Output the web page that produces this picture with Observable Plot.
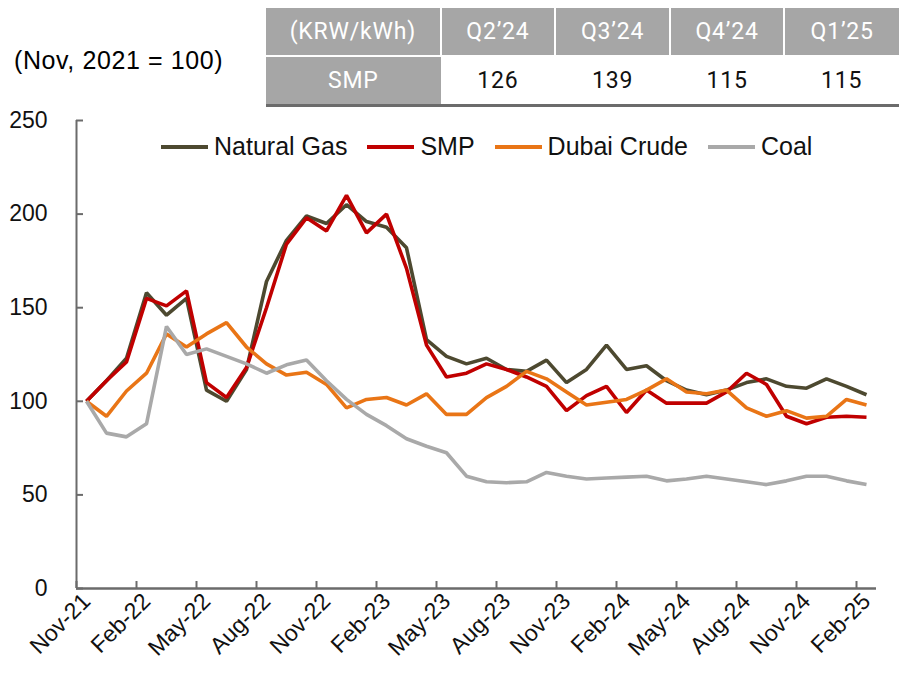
<!DOCTYPE html>
<html><head><meta charset="utf-8">
<script src="https://cdn.jsdelivr.net/npm/d3@7"></script>
<script src="https://cdn.jsdelivr.net/npm/@observablehq/plot@0.6"></script>
<style>
body{margin:0;background:#fff;}
#wrap{position:relative;width:899px;height:675px;overflow:hidden;font-family:Arial,"Liberation Sans",sans-serif;}
#chart{position:absolute;left:0;top:0;}
#base{position:absolute;left:14px;top:46px;font-size:25px;letter-spacing:0.6px;color:#000;white-space:nowrap;}
#tbl{position:absolute;left:266px;top:8px;border-collapse:collapse;font-family:Roboto,"Noto Sans",sans-serif;font-size:23px;letter-spacing:0.8px;table-layout:fixed;}
#tbl td{height:47px;padding:0;text-align:center;vertical-align:middle;}
#tbl tr.h td{background:#a6a6a6;color:#fff;border-left:2px solid #fff;}
#tbl tr.h td:first-child{border-left:none;}
#tbl tr.b td{color:#111;background:#fff;border-bottom:3px solid #6b6b6b;border-top:2px solid #fff;}
#tbl tr.b td.g{background:#a6a6a6;color:#fff;}
#legend{position:absolute;left:161px;top:132px;display:flex;align-items:center;font-size:25px;color:#111;white-space:nowrap;}
#legend .it{display:flex;align-items:center;margin-right:20px;}
#legend .ln{display:inline-block;width:47px;height:4px;margin-right:6px;}
</style></head>
<body><div id="wrap"><div id="chart"></div><div id="base"></div><table id="tbl"></table><div id="legend"></div></div>
<script>
// ---- data ----
const months = ["Nov-21","Dec-21","Jan-22","Feb-22","Mar-22","Apr-22","May-22","Jun-22","Jul-22","Aug-22",
"Sep-22","Oct-22","Nov-22","Dec-22","Jan-23","Feb-23","Mar-23","Apr-23","May-23","Jun-23",
"Jul-23","Aug-23","Sep-23","Oct-23","Nov-23","Dec-23","Jan-24","Feb-24","Mar-24","Apr-24",
"May-24","Jun-24","Jul-24","Aug-24","Sep-24","Oct-24","Nov-24","Dec-24","Jan-25","Feb-25"];
const tickLabels = ["Nov-21","Feb-22","May-22","Aug-22","Nov-22","Feb-23","May-23","Aug-23","Nov-23","Feb-24","May-24","Aug-24","Nov-24","Feb-25"];
const yTicks = [0,50,100,150,200,250];
const seriesNames = ["Natural Gas","SMP","Dubai Crude","Coal"];
const seriesColors = ["#4d4930","#c00000","#e97516","#a9a9a9"];
const naturalGas = [100,111,123,158,146,155,106,100,117,164,186,199,195,205,196,193,182,133,124,120,123,117,116,122,110,117,130,117,119,111,106,103.5,106,110,112,108,107,112,108,103.5];
const smp = [100,111,121,155,151,159,110,102,118,150,184,198,191,210,190,200,171,130,113,115,120,117,113,108,95,103,108,94,106,99,99,99,105,115,109,92,88,91.5,92,91.5];
const dubaiCrude = [100,92,105.5,115,136,129,136,142,129,120,114,115.5,109,96.5,101,102,98,104,93,93,102,108,116,112,105,98,99.5,101,106,112,105,104,106,96.5,92,95,91,92,101,98];
const coal = [100,83,81,88,140,125,128,124,120,115,119.5,122,111,101,93,87,80,76,72.5,60,57,56.5,57,62,60,58.5,59,59.5,60,57.5,58.5,60,58.5,57,55.5,57.5,60,60,57.5,55.5];
const baseLabel = "(Nov, 2021 = 100)";
const tableHeader = ["(KRW/kWh)","Q2\u201924","Q3\u201924","Q4\u201924","Q1\u201925"];
const tableRowLabel = "SMP";
const tableValues = [126,139,115,115];

// ---- layout ----
const colWidths = [177,117,117,117,117];

const seriesValues = [naturalGas, smp, dubaiCrude, coal];
const rows = [];
seriesNames.forEach((name, s) => seriesValues[s].forEach((v, i) => rows.push({series: name, i, month: months[i], value: v})));
const labelIdx = tickLabels.map(l => months.indexOf(l));
const boundaryTicks = d3.range(0, months.length, 3).map(i => i - 0.5);

const chart = Plot.plot({
  width: 899, height: 675,
  marginLeft: 76, marginRight: 23, marginTop: 120, marginBottom: 87,
  style: {fontFamily: "Arial, 'Liberation Sans', sans-serif", color: "#111", background: "transparent", overflow: "visible"},
  x: {domain: [-0.5, months.length - 0.5]},
  y: {domain: [0, 250]},
  color: {domain: seriesNames, range: seriesColors},
  marks: [
    Plot.axisY({ticks: yTicks, tickSize: 0, tickPadding: 29, fontSize: 23, label: null}),
    Plot.axisY({ticks: yTicks, tickSize: 7, dx: 7, tickFormat: () => "", stroke: "#6b6b6b", strokeWidth: 2, label: null}),
    Plot.axisX({ticks: boundaryTicks, tickSize: 7, dy: -7, tickFormat: () => "", stroke: "#6b6b6b", strokeWidth: 2, label: null}),
    Plot.axisX({ticks: labelIdx, tickFormat: i => months[i], tickSize: 0, tickPadding: 9, tickRotate: -45, fontSize: 23, label: null}),
    Plot.ruleX([-0.5], {stroke: "#6b6b6b", strokeWidth: 2}),
    Plot.ruleY([0], {stroke: "#6b6b6b", strokeWidth: 2.5}),
    Plot.line(rows, {x: "i", y: "value", z: "series", stroke: "series", strokeWidth: 3.6, strokeLinejoin: "miter", strokeLinecap: "butt"})
  ]
});
document.getElementById("chart").appendChild(chart);

document.getElementById("base").textContent = baseLabel;

const tbl = document.getElementById("tbl");
const colg = document.createElement("colgroup");
colWidths.forEach(w => { const c = document.createElement("col"); c.style.width = w + "px"; colg.appendChild(c); });
tbl.appendChild(colg);
const tr1 = document.createElement("tr"); tr1.className = "h";
tableHeader.forEach(h => { const td = document.createElement("td"); td.textContent = h; tr1.appendChild(td); });
tbl.appendChild(tr1);
const tr2 = document.createElement("tr"); tr2.className = "b";
const td0 = document.createElement("td"); td0.className = "g"; td0.textContent = tableRowLabel; tr2.appendChild(td0);
tableValues.forEach(v => { const td = document.createElement("td"); td.textContent = v; tr2.appendChild(td); });
tbl.appendChild(tr2);

const lg = document.getElementById("legend");
seriesNames.forEach((n, k) => {
  const it = document.createElement("div"); it.className = "it";
  const ln = document.createElement("span"); ln.className = "ln"; ln.style.background = seriesColors[k];
  const tx = document.createElement("span"); tx.textContent = n;
  it.appendChild(ln); it.appendChild(tx); lg.appendChild(it);
});
</script></body></html>
